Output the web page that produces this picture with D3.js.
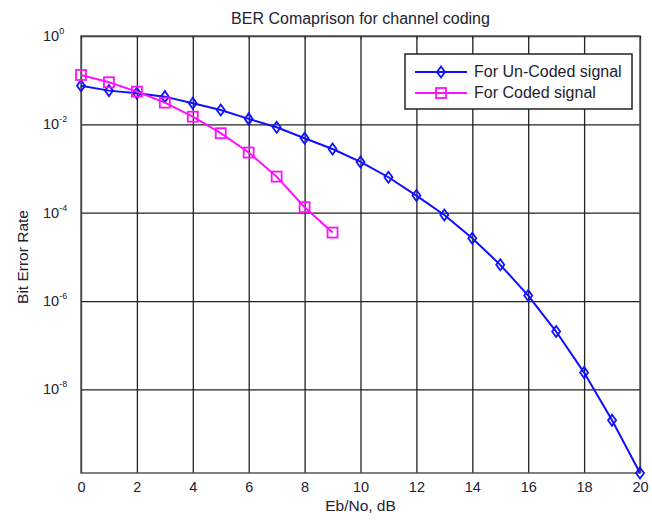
<!DOCTYPE html>
<html>
<head>
<meta charset="utf-8">
<script src="https://cdn.jsdelivr.net/npm/d3@7"></script>
<style>
  body { margin: 0; background: #fff; }
  svg { font-family: "Liberation Sans", Arial, sans-serif; }
</style>
</head>
<body>
<div id="chart"></div>
<script>
// Eb/No values (dB)
let ebnoUncoded = [0,1,2,3,4,5,6,7,8,9,10,11,12,13,14,15,16,17,18,19,20];
let ebnoCoded = [0,1,2,3,4,5,6,7,8,9];

// BER
let berUncoded = [0.075, 0.058, 0.0506, 0.0424, 0.030, 0.0212, 0.0133, 0.0086, 0.00485,
  0.00277, 0.00141, 6.35e-4, 2.44e-4, 8.9e-5, 2.65e-5, 6.6e-6, 1.33e-6, 2.04e-7,
  2.4e-8, 2.0e-9, 1.28e-10];
let berCoded = [0.131, 0.0896, 0.055, 0.031, 0.0149, 0.0063, 0.0023, 6.56e-4, 1.33e-4, 3.55e-5];

let xTicks = [0,2,4,6,8,10,12,14,16,18,20];
let yTicks = [1, 1e-2, 1e-4, 1e-6, 1e-8];
let yTickExp = ["0", "-2", "-4", "-6", "-8"];

let seriesNames = ["For Un-Coded signal", "For Coded signal"];

let svgWidth = 652;
let svgHeight = 520;

let margin = { top: 36, right: 12, bottom: 47, left: 81 };
let width = svgWidth - margin.left - margin.right;
let height = svgHeight - margin.top - margin.bottom;

let svg = d3.select("#chart")
  .append("svg")
  .attr("width", svgWidth)
  .attr("height", svgHeight);

let chartGroup = svg.append("g")
  .attr("transform", `translate(${margin.left}, ${margin.top})`);

let xScale = d3.scaleLinear().domain([0, 20]).range([0, width]);
let yScale = d3.scaleLog().domain([d3.min(berUncoded), 1]).range([height, 0]);

// x grid + labels
let xAxis = chartGroup.append("g")
  .attr("transform", `translate(0, ${height})`)
  .call(d3.axisBottom(xScale).tickValues(xTicks).tickSize(-height).tickPadding(9).tickFormat(d3.format("d")));
xAxis.select(".domain").remove();
xAxis.selectAll("line").attr("stroke", "#222").attr("stroke-width", 1.3);
xAxis.selectAll("text").attr("font-size", "14.5px").attr("fill", "#223");

// y grid
let yAxis = chartGroup.append("g")
  .call(d3.axisLeft(yScale).tickValues(yTicks).tickSize(-width).tickFormat(""));
yAxis.select(".domain").remove();
yAxis.selectAll("line").attr("stroke", "#222").attr("stroke-width", 1.3);

// y labels 10^n
yTicks.forEach(function(t, i) {
  let lbl = chartGroup.append("text")
    .attr("x", 43 - margin.left)
    .attr("y", yScale(t) + 5)
    .attr("font-size", "14.5px")
    .attr("fill", "#223");
  lbl.append("tspan").text("10");
  lbl.append("tspan").attr("dy", -7).attr("font-size", "9px").text(yTickExp[i]);
});

// frame
chartGroup.append("rect")
  .attr("width", width)
  .attr("height", height)
  .attr("fill", "none")
  .attr("stroke", "#555")
  .attr("stroke-width", 1.5);

// small inner ticks at top
chartGroup.append("g")
  .call(d3.axisTop(xScale).tickValues(xTicks).tickSize(-3).tickFormat(""))
  .call(g => g.select(".domain").remove())
  .selectAll("line").attr("stroke", "#222");

let line = d3.line()
  .x(d => xScale(d[0]))
  .y(d => yScale(d[1]));

let unc = d3.zip(ebnoUncoded, berUncoded);
let cod = d3.zip(ebnoCoded, berCoded);

let diamond = "M0,-5.5L4,0L0,5.5L-4,0Z";

function drawSeries(data, color, marker) {
  chartGroup.append("path")
    .datum(data)
    .attr("fill", "none")
    .attr("stroke", color)
    .attr("stroke-width", 2)
    .attr("d", line);
  let m = chartGroup.selectAll(null)
    .data(data)
    .enter();
  if (marker === "diamond") {
    m.append("path")
      .attr("transform", d => `translate(${xScale(d[0])}, ${yScale(d[1])})`)
      .attr("d", diamond)
      .attr("fill", "none")
      .attr("stroke", color)
      .attr("stroke-width", 1.8);
  } else {
    m.append("rect")
      .attr("x", d => xScale(d[0]) - 5)
      .attr("y", d => yScale(d[1]) - 5)
      .attr("width", 10)
      .attr("height", 10)
      .attr("fill", "none")
      .attr("stroke", color)
      .attr("stroke-width", 1.8);
  }
}

drawSeries(unc, "#1010ff", "diamond");
drawSeries(cod, "#ff10ff", "square");

// title
svg.append("text")
  .attr("x", margin.left + width / 2)
  .attr("y", 24)
  .attr("text-anchor", "middle")
  .attr("font-size", "16px")
  .attr("fill", "#223")
  .text("BER Comaprison for channel coding");

// x label
svg.append("text")
  .attr("x", margin.left + width / 2)
  .attr("y", 511)
  .attr("text-anchor", "middle")
  .attr("font-size", "15.5px")
  .attr("fill", "#223")
  .text("Eb/No, dB");

// y label
svg.append("text")
  .attr("transform", "rotate(-90)")
  .attr("x", -257)
  .attr("y", 28)
  .attr("text-anchor", "middle")
  .attr("font-size", "15.5px")
  .attr("fill", "#223")
  .text("Bit Error Rate");

// legend
let legend = svg.append("g");
legend.append("rect")
  .attr("x", 405)
  .attr("y", 54)
  .attr("width", 227)
  .attr("height", 55)
  .attr("fill", "#fff")
  .attr("stroke", "#222")
  .attr("stroke-width", 1.5);

let legColors = ["#1010ff", "#ff10ff"];
seriesNames.forEach(function(name, i) {
  let yy = 72 + i * 21;
  legend.append("line")
    .attr("x1", 415).attr("x2", 467)
    .attr("y1", yy).attr("y2", yy)
    .attr("stroke", legColors[i])
    .attr("stroke-width", 2);
  if (i === 0) {
    legend.append("path")
      .attr("transform", `translate(441, ${yy})`)
      .attr("d", diamond)
      .attr("fill", "none")
      .attr("stroke", legColors[i])
      .attr("stroke-width", 1.8);
  } else {
    legend.append("rect")
      .attr("x", 436).attr("y", yy - 5)
      .attr("width", 10).attr("height", 10)
      .attr("fill", "none")
      .attr("stroke", legColors[i])
      .attr("stroke-width", 1.8);
  }
  legend.append("text")
    .attr("x", 474)
    .attr("y", yy + 5)
    .attr("font-size", "16px")
    .attr("fill", "#223")
    .text(name);
});
</script>
</body>
</html>
